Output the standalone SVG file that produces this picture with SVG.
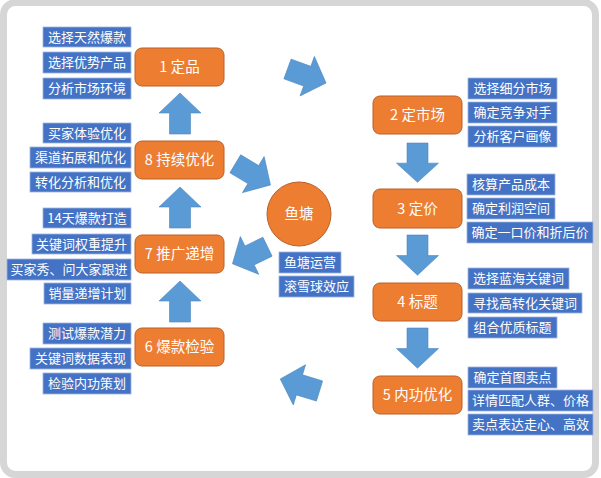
<svg xmlns="http://www.w3.org/2000/svg" width="601" height="478" viewBox="0 0 601 478">
<style>
.frame{fill:#ffffff;stroke:#d6d6d6;stroke-width:7}
.node rect,.node circle{fill:#ED7D31;stroke:#B9602A;stroke-width:1}
.node text{fill:#ffffff;font-family:"Noto Sans CJK SC","Liberation Sans",sans-serif;font-size:14.5px;text-anchor:middle}
.lbl rect{fill:#4472C4;stroke:#9DB5E0;stroke-width:0.8}
.lbl text{fill:#ffffff;font-family:"Noto Sans CJK SC","Liberation Sans",sans-serif;font-size:13px;text-anchor:middle}
.arr{fill:#5B9BD5;stroke:#4A86C0;stroke-width:0.6}
</style>
<defs>
<polygon id="ar" points="0,-10.5 21,-10.5 21,-21 41,0 21,21 21,10.5 0,10.5"/>
</defs>
<rect class="frame" x="3.5" y="2.5" width="592" height="472" rx="12"/>

<g id="connectors" class="arr">
<use href="#ar" transform="translate(287.5,69) rotate(20)"/>
<use href="#ar" transform="translate(417.5,143) rotate(90) scale(0.96,1)"/>
<use href="#ar" transform="translate(417.5,235) rotate(90) scale(0.98,1)"/>
<use href="#ar" transform="translate(417.5,328) rotate(90) scale(0.98,1)"/>
<use href="#ar" transform="translate(319.5,391) rotate(197)"/>
<use href="#ar" transform="translate(180,322) rotate(-90)"/>
<use href="#ar" transform="translate(180,228) rotate(-90)"/>
<use href="#ar" transform="translate(180,134) rotate(-90)"/>
<use href="#ar" transform="translate(235.3,163.8) rotate(31)"/>
<use href="#ar" transform="translate(267.5,246.7) rotate(154) scale(0.95,1)"/>
</g>

<g id="n1" class="node"><rect x="135" y="48" width="89" height="38" rx="7"/><text x="179.5" y="72">1 定品</text></g>
<g id="n2" class="node"><rect x="373" y="96" width="89" height="38" rx="7"/><text x="417.5" y="120">2 定市场</text></g>
<g id="n3" class="node"><rect x="373" y="189" width="89" height="39" rx="7"/><text x="417.5" y="213.5">3 定价</text></g>
<g id="n4" class="node"><rect x="373" y="283" width="89" height="38" rx="7"/><text x="417.5" y="307">4 标题</text></g>
<g id="n5" class="node"><rect x="373" y="376" width="89" height="38" rx="7"/><text x="417.5" y="400">5 内功优化</text></g>
<g id="n6" class="node"><rect x="135" y="328" width="89" height="38" rx="7"/><text x="179.5" y="352">6 爆款检验</text></g>
<g id="n7" class="node"><rect x="135" y="235" width="89" height="38" rx="7"/><text x="179.5" y="259">7 推广递增</text></g>
<g id="n8" class="node"><rect x="135" y="141" width="89" height="38" rx="7"/><text x="179.5" y="165">8 持续优化</text></g>
<g id="pond" class="node"><circle cx="299" cy="214" r="32"/><text x="299" y="219">鱼塘</text></g>

<g id="labels-n1" class="lbl">
<rect x="43" y="27" width="88" height="20"/><text x="87" y="41.5">选择天然爆款</text>
<rect x="43" y="52" width="88" height="21"/><text x="87" y="67">选择优势产品</text>
<rect x="43" y="78" width="88" height="21"/><text x="87" y="93">分析市场环境</text>
</g>
<g id="labels-n8" class="lbl">
<rect x="43" y="123" width="88" height="20"/><text x="87" y="137.5">买家体验优化</text>
<rect x="30" y="147" width="101" height="21"/><text x="80.5" y="162">渠道拓展和优化</text>
<rect x="30" y="172" width="101" height="20"/><text x="80.5" y="186.5">转化分析和优化</text>
</g>
<g id="labels-n7" class="lbl">
<rect x="43" y="208" width="88" height="20"/><text x="87" y="222.5">14天爆款打造</text>
<rect x="32" y="234" width="99" height="20"/><text x="81.5" y="248.5">关键词权重提升</text>
<rect x="7" y="259" width="124" height="21"/><text x="69" y="274">买家秀、问大家跟进</text>
<rect x="44" y="283" width="87" height="21"/><text x="87.5" y="298">销量递增计划</text>
</g>
<g id="labels-n6" class="lbl">
<rect x="43" y="323" width="88" height="21"/><text x="87" y="338">测试爆款潜力</text>
<rect x="30" y="348" width="101" height="21"/><text x="80.5" y="363">关键词数据表现</text>
<rect x="43" y="373" width="88" height="21"/><text x="87" y="388">检验内功策划</text>
</g>
<g id="labels-n2" class="lbl">
<rect x="468" y="78" width="89" height="21"/><text x="512.5" y="93">选择细分市场</text>
<rect x="468" y="102" width="89" height="21"/><text x="512.5" y="117">确定竞争对手</text>
<rect x="468" y="126" width="89" height="21"/><text x="512.5" y="141">分析客户画像</text>
</g>
<g id="labels-n3" class="lbl">
<rect x="467" y="174" width="88" height="21"/><text x="511" y="189">核算产品成本</text>
<rect x="467" y="198" width="88" height="21"/><text x="511" y="213">确定利润空间</text>
<rect x="467" y="222" width="126" height="21"/><text x="530" y="237">确定一口价和折后价</text>
</g>
<g id="labels-n4" class="lbl">
<rect x="468" y="268" width="101" height="21"/><text x="518.5" y="283">选择蓝海关键词</text>
<rect x="468" y="293" width="114" height="20"/><text x="525" y="307.5">寻找高转化关键词</text>
<rect x="468" y="317" width="89" height="21"/><text x="512.5" y="332">组合优质标题</text>
</g>
<g id="labels-n5" class="lbl">
<rect x="468" y="367" width="89" height="21"/><text x="512.5" y="382">确定首图卖点</text>
<rect x="468" y="390" width="125" height="21"/><text x="530.5" y="405">详情匹配人群、价格</text>
<rect x="468" y="414" width="125" height="21"/><text x="530.5" y="429">卖点表达走心、高效</text>
</g>
<g id="labels-pond" class="lbl">
<rect x="279" y="252" width="62" height="21"/><text x="310" y="267">鱼塘运营</text>
<rect x="279" y="276" width="75" height="21"/><text x="316.5" y="291">滚雪球效应</text>
</g>
</svg>
